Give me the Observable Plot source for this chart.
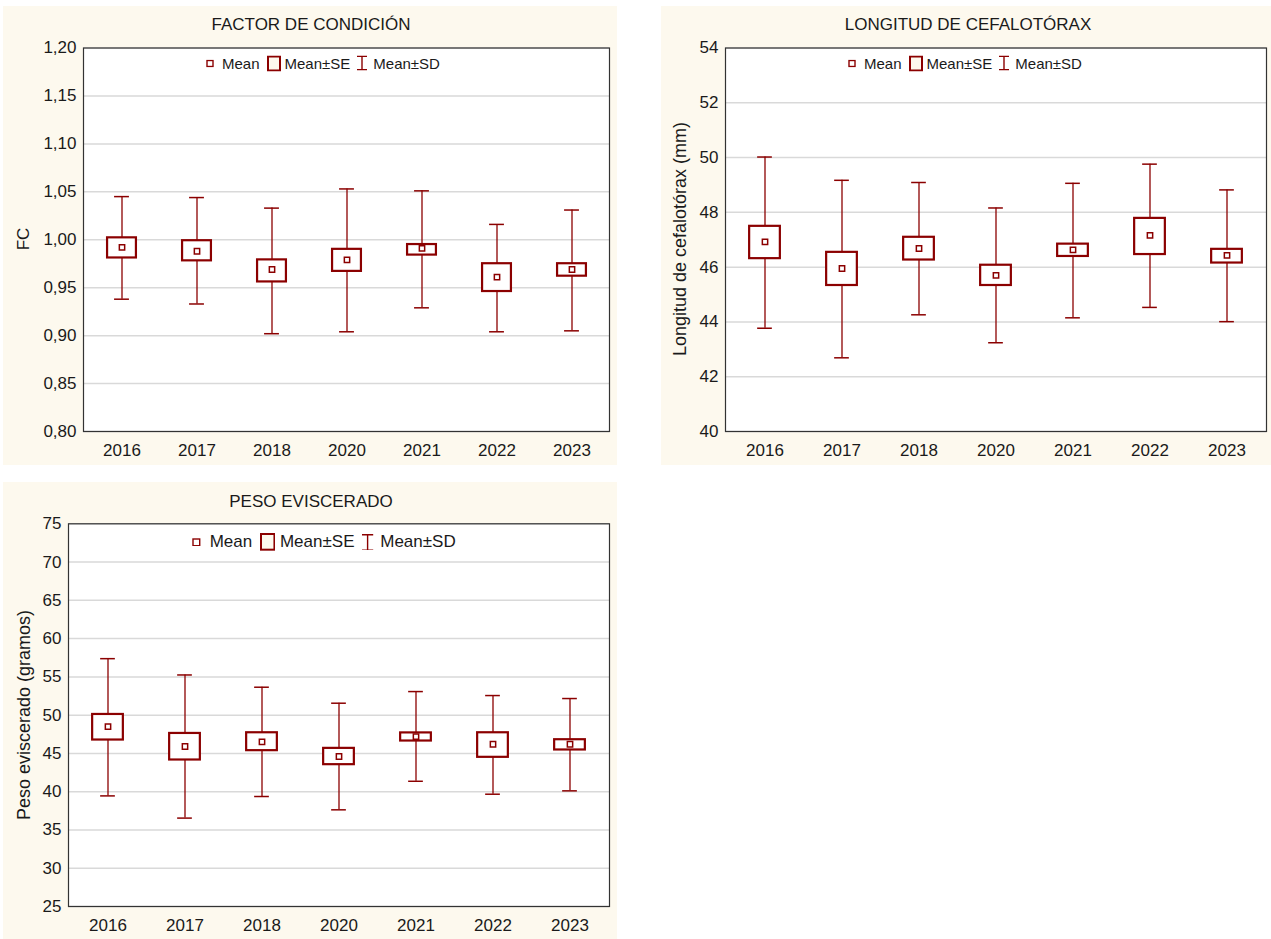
<!DOCTYPE html>
<html><head><meta charset="utf-8">
<script src="https://cdn.jsdelivr.net/npm/d3@7"></script>
<script src="https://cdn.jsdelivr.net/npm/@observablehq/plot@0.6"></script>
<style>
body{margin:0;background:#fff;width:1271px;height:939px;position:relative;overflow:hidden;font-family:"Liberation Sans",Arial,sans-serif;color:#1a1a1a}
.panel{position:absolute;background:#fdf9ee}
.panel svg{position:absolute;left:0;top:0;overflow:visible;background:transparent}
.title{position:absolute;transform:translate(-50%,-50%);white-space:nowrap;font-size:17px}
.ylab{position:absolute;transform:translate(-50%,-50%) rotate(-90deg);white-space:nowrap}
.legend{position:absolute;display:flex;align-items:center;white-space:nowrap;transform:translateY(-50%)}
.legend svg{display:block}
</style>
</head><body>
<script>
const years = ["2016","2017","2018","2020","2021","2022","2023"];

// FACTOR DE CONDICIÓN
const fcMean   = [0.992,0.988,0.969,0.979,0.991,0.961,0.969];
const fcSeLow  = [0.981,0.978,0.956,0.967,0.984,0.946,0.962];
const fcSeHigh = [1.002,0.999,0.979,0.990,0.995,0.975,0.975];
const fcSdLow  = [0.938,0.933,0.902,0.904,0.929,0.904,0.905];
const fcSdHigh = [1.045,1.044,1.033,1.053,1.051,1.016,1.031];
const fcTicks  = [0.80,0.85,0.90,0.95,1.00,1.05,1.10,1.15,1.20];

// LONGITUD DE CEFALOTÓRAX
const lcMean   = [46.92,45.95,46.68,45.70,46.63,47.16,46.43];
const lcSeLow  = [46.31,45.33,46.26,45.33,46.39,46.46,46.15];
const lcSeHigh = [47.49,46.54,47.09,46.07,46.84,47.78,46.65];
const lcSdLow  = [43.77,42.69,44.26,43.24,44.15,44.53,44.01];
const lcSdHigh = [50.02,49.17,49.09,48.16,49.06,49.76,48.82];
const lcTicks  = [40,42,44,46,48,50,52,54];

// PESO EVISCERADO
const peMean   = [48.5,45.9,46.5,44.6,47.2,46.2,46.2];
const peSeLow  = [46.75,44.14,45.36,43.53,46.62,44.49,45.45];
const peSeHigh = [50.09,47.61,47.70,45.66,47.68,47.70,46.79];
const peSdLow  = [39.45,36.55,39.37,37.63,41.36,39.67,40.11];
const peSdHigh = [57.38,55.25,53.65,51.56,53.08,52.56,52.17];
const peTicks  = [25,30,35,40,45,50,55,60,65,70,75];

const RED = "#8b0000";

function rowsOf(mean, seLo, seHi, sdLo, sdHi) {
  return years.map((year, i) => ({year, mean: mean[i], seLo: seLo[i], seHi: seHi[i], sdLo: sdLo[i], sdHi: sdHi[i]}));
}

function makePanel(cfg) {
  const div = document.createElement("div");
  div.className = "panel";
  Object.assign(div.style, {left: cfg.left + "px", top: cfg.top + "px", width: cfg.width + "px", height: cfg.height + "px"});
  const bw = (cfg.width - cfg.mL - cfg.mR) / years.length;
  const boxInset = (bw - cfg.boxW) / 2;
  const capInset = (bw - 15) / 2;
  const rows = cfg.rows;
  const svg = Plot.plot({
    width: cfg.width, height: cfg.height,
    marginLeft: cfg.mL, marginRight: cfg.mR, marginTop: cfg.mT, marginBottom: cfg.mB,
    style: {background: "transparent", overflow: "visible", fontFamily: "Liberation Sans, Arial, sans-serif", fontSize: "17px", color: "#1a1a1a"},
    x: {type: "band", domain: years, padding: 0, label: null},
    y: {domain: cfg.domain, label: null},
    marks: [
      Plot.frame({fill: "white"}),
      Plot.gridY(cfg.ticks, {stroke: "#d9d9d9", strokeOpacity: 1, strokeWidth: 1.5}),
      Plot.axisY(cfg.ticks, {tickSize: 0, tickPadding: 7, tickFormat: cfg.fmt, label: null}),
      Plot.axisX({tickSize: 0, tickPadding: 12, label: null}),
      Plot.ruleX(rows, {x: "year", y1: "sdLo", y2: "sdHi", stroke: RED, strokeWidth: 1.3}),
      Plot.tickY(rows, {x: "year", y: "sdLo", stroke: RED, strokeWidth: 1.5, insetLeft: capInset, insetRight: capInset}),
      Plot.tickY(rows, {x: "year", y: "sdHi", stroke: RED, strokeWidth: 1.5, insetLeft: capInset, insetRight: capInset}),
      Plot.barY(rows, {x: "year", y1: "seLo", y2: "seHi", fill: "white", stroke: RED, strokeWidth: 2.2, insetLeft: boxInset, insetRight: boxInset}),
      Plot.dot(rows, {x: "year", y: "mean", symbol: "square", r: 3, fill: "white", stroke: RED, strokeWidth: 1.5}),
      Plot.frame({stroke: "#333", strokeWidth: 1.2})
    ]
  });
  div.appendChild(svg);
  document.body.appendChild(div);
}

function addText(cls, text, x, y, size) {
  const d = document.createElement("div");
  d.className = cls;
  d.textContent = text;
  Object.assign(d.style, {left: x + "px", top: y + "px", fontSize: size + "px"});
  document.body.appendChild(d);
}

function addLegend(x, y, size, k) {
  const d = document.createElement("div");
  d.className = "legend";
  Object.assign(d.style, {left: x + "px", top: y + "px", fontSize: size + "px"});
  const s = 6 * k, bw = 12 * k, bh = 14 * k, iw = 10 * k, ih = 15 * k;
  d.innerHTML =
    `<svg width="${s + 2}" height="${s + 2}"><rect x="1" y="1" width="${s}" height="${s}" fill="white" stroke="${RED}" stroke-width="1.4"/></svg>` +
    `<span style="margin-left:${8 * k}px">Mean</span>` +
    `<svg style="margin-left:${7 * k}px" width="${bw + 2}" height="${bh + 2}"><rect x="1" y="1" width="${bw}" height="${bh}" fill="#fdf9ee" stroke="${RED}" stroke-width="2"/></svg>` +
    `<span style="margin-left:${4 * k}px">Mean±SE</span>` +
    `<svg style="margin-left:${7 * k}px" width="${iw}" height="${ih}"><path d="M0,0.7H${iw}M${iw / 2},0.7V${ih - 0.7}M0,${ih - 0.7}H${iw}" fill="none" stroke="${RED}" stroke-width="1.4"/></svg>` +
    `<span style="margin-left:${6 * k}px">Mean±SD</span>`;
  document.body.appendChild(d);
}

const fmtFC = d => d.toFixed(2).replace(".", ",");
const fmtInt = d => String(d);

makePanel({left: 3, top: 6, width: 614, height: 459, mL: 80, mR: 8, mT: 41.5, mB: 34,
  domain: [0.80, 1.20], ticks: fcTicks, fmt: fmtFC, boxW: 29,
  rows: rowsOf(fcMean, fcSeLow, fcSeHigh, fcSdLow, fcSdHigh)});
makePanel({left: 661, top: 6, width: 610, height: 459, mL: 64, mR: 5, mT: 41.5, mB: 34,
  domain: [40, 54], ticks: lcTicks, fmt: fmtInt, boxW: 31,
  rows: rowsOf(lcMean, lcSeLow, lcSeHigh, lcSdLow, lcSdHigh)});
makePanel({left: 3, top: 482, width: 614, height: 457, mL: 65, mR: 8, mT: 41.3, mB: 33,
  domain: [25, 75], ticks: peTicks, fmt: fmtInt, boxW: 31,
  rows: rowsOf(peMean, peSeLow, peSeHigh, peSdLow, peSdHigh)});

addText("title", "FACTOR DE CONDICIÓN", 311, 25, 17);
addText("title", "LONGITUD DE CEFALOTÓRAX", 968, 25, 17);
addText("title", "PESO EVISCERADO", 311, 502, 17);

addText("ylab", "FC", 24, 239, 17);
addText("ylab", "Longitud de cefalotórax (mm)", 680, 239, 18);
addText("ylab", "Peso eviscerado (gramos)", 24, 715, 18);

addLegend(206, 63, 15, 1);
addLegend(848, 63, 15, 1);
addLegend(192, 542, 17, 1.12);
</script>
</body></html>
